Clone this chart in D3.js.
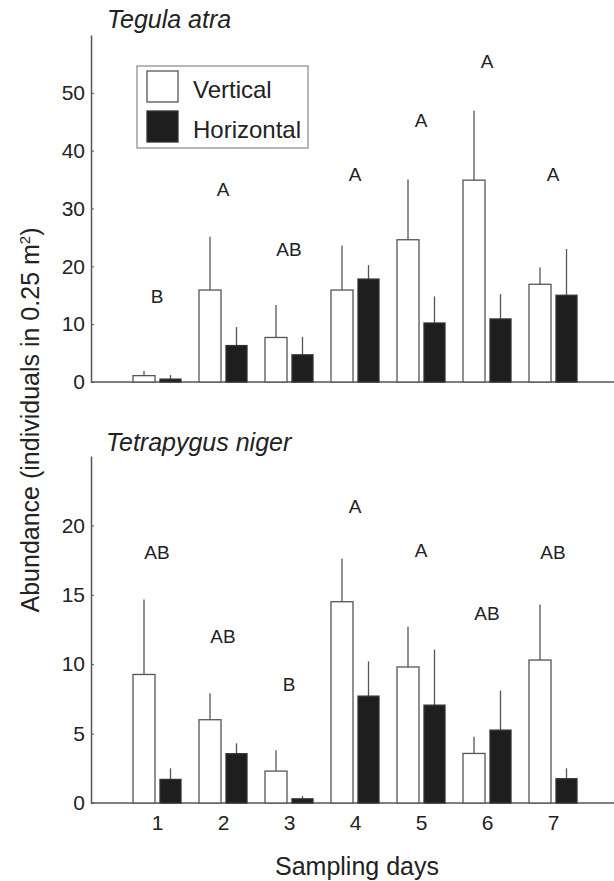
<!DOCTYPE html>
<html>
<head>
<meta charset="utf-8">
<script src="https://cdn.jsdelivr.net/npm/d3@7"></script>
<style>
  body { margin: 0; background: #fff; }
  svg text { font-family: "Liberation Sans", Arial, sans-serif; fill: #222; }
</style>
</head>
<body>
<div id="chart"></div>
<script>
// days on the x axis
var days = [1, 2, 3, 4, 5, 6, 7];

// Tegula atra (mean, upper error)
var tegulaVertical = [1.1, 15.9, 7.7, 15.9, 24.6, 34.9, 16.9];
var tegulaVerticalErr = [0.8, 9.2, 5.6, 7.7, 10.4, 12.0, 2.9];
var tegulaHorizontal = [0.5, 6.3, 4.7, 17.8, 10.2, 10.9, 15.0];
var tegulaHorizontalErr = [0.7, 3.2, 3.1, 2.4, 4.6, 4.3, 8.0];
var tegulaLetters = ["B", "A", "AB", "A", "A", "A", "A"];
var tegulaLetterY = [13.7, 32.2, 21.8, 34.8, 44.1, 54.3, 34.8];
var tegulaTicks = [0, 10, 20, 30, 40, 50];

// Tetrapygus niger
var tetraVertical = [9.26, 6.0, 2.3, 14.5, 9.8, 3.57, 10.3];
var tetraVerticalErr = [5.4, 1.9, 1.5, 3.1, 2.9, 1.2, 4.0];
var tetraHorizontal = [1.7, 3.55, 0.3, 7.7, 7.05, 5.25, 1.75];
var tetraHorizontalErr = [0.8, 0.75, 0.2, 2.5, 4.0, 2.85, 0.75];
var tetraLetters = ["AB", "AB", "B", "A", "A", "AB", "AB"];
var tetraLetterY = [17.6, 11.5, 8.1, 20.9, 17.7, 13.2, 17.6];
var tetraTicks = [0, 5, 10, 15, 20];

var legendLabels = ["Vertical", "Horizontal"];

var width = 614,
    height = 881,
    left = 91,
    right = 614,
    lineColor = "#555",
    darkFill = "#1e1e1e";

var svg = d3.select("#chart").append("svg")
    .attr("width", width)
    .attr("height", height);

var x = d3.scaleLinear().domain([0, 8]).range([left, 619]);

function drawPanel(opts) {
    var y = d3.scaleLinear().domain([0, opts.max]).range([opts.bottom, opts.top]);
    var g = svg.append("g");

    var rows = days.map(function(d, i) {
        return {day: d, v: opts.vertical[i], ve: opts.verticalErr[i],
                h: opts.horizontal[i], he: opts.horizontalErr[i],
                letter: opts.letters[i], ly: opts.letterY[i]};
    });

    // y axis
    var yAxis = d3.axisLeft(y)
        .tickValues(opts.ticks)
        .tickSizeInner(-3)
        .tickSizeOuter(0)
        .tickPadding(6);
    var ya = g.append("g")
        .attr("transform", "translate(" + left + ",0)")
        .call(yAxis);
    ya.select(".domain").attr("stroke", lineColor).attr("stroke-width", 1.5);
    ya.selectAll(".tick line").attr("stroke", lineColor);
    ya.selectAll(".tick text").style("font-size", "21px").attr("fill", "#222");

    // baseline
    g.append("line")
        .attr("x1", left).attr("x2", right)
        .attr("y1", y(0)).attr("y2", y(0))
        .attr("stroke", lineColor).attr("stroke-width", 1.5);

    var groups = g.selectAll(".day").data(rows).enter()
        .append("g").attr("class", "day");

    // error bars (upper only)
    groups.append("line")
        .attr("x1", function(d) { return x(d.day) - 13; })
        .attr("x2", function(d) { return x(d.day) - 13; })
        .attr("y1", function(d) { return y(d.v); })
        .attr("y2", function(d) { return y(d.v + d.ve); })
        .attr("stroke", lineColor).attr("stroke-width", 1.3);
    groups.append("line")
        .attr("x1", function(d) { return x(d.day) + 13.5; })
        .attr("x2", function(d) { return x(d.day) + 13.5; })
        .attr("y1", function(d) { return y(d.h); })
        .attr("y2", function(d) { return y(d.h + d.he); })
        .attr("stroke", lineColor).attr("stroke-width", 1.3);

    groups.append("rect")
        .attr("x", function(d) { return x(d.day) - 24; })
        .attr("width", 22)
        .attr("y", function(d) { return y(d.v); })
        .attr("height", function(d) { return y(0) - y(d.v); })
        .attr("fill", "#fff")
        .attr("stroke", lineColor).attr("stroke-width", 1.3);

    groups.append("rect")
        .attr("x", function(d) { return x(d.day) + 3; })
        .attr("width", 21)
        .attr("y", function(d) { return y(d.h); })
        .attr("height", function(d) { return y(0) - y(d.h); })
        .attr("fill", darkFill)
        .attr("stroke", "#333").attr("stroke-width", 1.3);

    groups.append("text")
        .attr("x", function(d) { return x(d.day); })
        .attr("y", function(d) { return y(d.ly); })
        .attr("text-anchor", "middle")
        .style("font-size", "19px")
        .text(function(d) { return d.letter; });

    g.append("text")
        .attr("x", opts.titleX)
        .attr("y", opts.titleY)
        .style("font-size", "25px")
        .style("font-style", "italic")
        .text(opts.title);

    return y;
}

drawPanel({title: "Tegula atra", titleX: 107, titleY: 28,
           top: 35, bottom: 382, max: 60, ticks: tegulaTicks,
           vertical: tegulaVertical, verticalErr: tegulaVerticalErr,
           horizontal: tegulaHorizontal, horizontalErr: tegulaHorizontalErr,
           letters: tegulaLetters, letterY: tegulaLetterY});

var yBottom = drawPanel({title: "Tetrapygus niger", titleX: 106, titleY: 451,
           top: 456, bottom: 803, max: 25, ticks: tetraTicks,
           vertical: tetraVertical, verticalErr: tetraVerticalErr,
           horizontal: tetraHorizontal, horizontalErr: tetraHorizontalErr,
           letters: tetraLetters, letterY: tetraLetterY});

// x tick labels on the bottom panel
var xAxis = d3.axisBottom(x).tickValues(days).tickSize(0).tickPadding(12);
var xa = svg.append("g")
    .attr("transform", "translate(0," + yBottom(0) + ")")
    .call(xAxis);
xa.select(".domain").remove();
xa.selectAll(".tick text").style("font-size", "21px").attr("fill", "#222");

svg.append("text")
    .attr("x", 357)
    .attr("y", 875)
    .attr("text-anchor", "middle")
    .style("font-size", "25px")
    .text("Sampling days");

// y axis title
var yt = svg.append("text")
    .attr("transform", "translate(39,420) rotate(-90)")
    .attr("text-anchor", "middle")
    .style("font-size", "25px");
yt.append("tspan").text("Abundance (individuals in 0.25 m");
yt.append("tspan").attr("dy", -9).style("font-size", "15px").text("2");
yt.append("tspan").attr("dy", 9).text(")");

// legend
var legend = svg.append("g");
legend.append("rect")
    .attr("x", 137).attr("y", 66)
    .attr("width", 171).attr("height", 82)
    .attr("fill", "#fff")
    .attr("stroke", "#888").attr("stroke-width", 1.2);

var items = legend.selectAll(".item").data(legendLabels).enter()
    .append("g").attr("class", "item")
    .attr("transform", function(d, i) { return "translate(0," + (i * 40) + ")"; });
items.append("rect")
    .attr("x", 147).attr("y", 71)
    .attr("width", 31).attr("height", 31)
    .attr("fill", function(d, i) { return i == 0 ? "#fff" : darkFill; })
    .attr("stroke", function(d, i) { return i == 0 ? lineColor : "#333"; })
    .attr("stroke-width", 1.3);
items.append("text")
    .attr("x", 193).attr("y", 98)
    .style("font-size", "24px")
    .text(function(d) { return d; });
</script>
</body>
</html>
